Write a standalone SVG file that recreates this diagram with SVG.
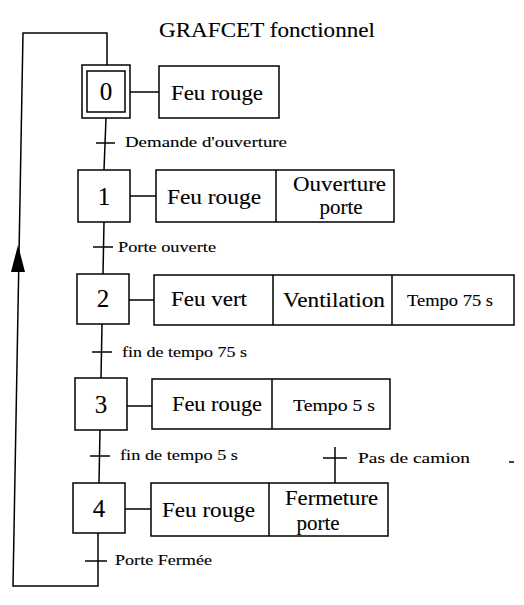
<svg xmlns="http://www.w3.org/2000/svg" width="524" height="605" viewBox="0 0 524 605">
<style>
.ln{fill:none;stroke:#000;stroke-width:1.5}
.bx{fill:#fff;stroke:#000;stroke-width:1.5}
.f{font-family:"Times New Roman","Liberation Serif",Tinos,"Noto Serif","DejaVu Serif",serif;fill:#000;stroke:#000;stroke-width:0.12}
.num{font-size:25px;text-anchor:middle}
.act{font-size:21px}
.sm{font-size:16px}
.tr{font-size:15px}
.ttl{font-size:21px}
</style>
<rect width="524" height="605" fill="#fff"/>
<text class="f ttl" x="159" y="37" textLength="216" lengthAdjust="spacingAndGlyphs">GRAFCET fonctionnel</text>
<g id="connectors">
  <path class="ln" d="M107,65 V33 H23 L13,586 H98 V533"/>
  <path d="M18,245 L11,272 L25,272 Z" fill="#000"/>
  <path class="ln" d="M106,118 L104,170"/>
  <path class="ln" d="M96,143 H115"/>
  <path class="ln" d="M104,222 L103,274"/>
  <path class="ln" d="M93,247 H113"/>
  <path class="ln" d="M102,324 L101,378"/>
  <path class="ln" d="M92,352 H112"/>
  <path class="ln" d="M100,430 L99,483"/>
  <path class="ln" d="M90,456 H110"/>
  <path class="ln" d="M85,561 H107"/>
  <path class="ln" d="M335,447 V483"/>
  <path class="ln" d="M323,458 H347"/>
  <path class="ln" d="M130,92 H159"/>
  <path class="ln" d="M130,196 H156"/>
  <path class="ln" d="M129,300 H154"/>
  <path class="ln" d="M127,406 H152"/>
  <path class="ln" d="M125,509 H151"/>
  <path class="ln" d="M509,462 H514"/>
</g>
<g id="t0"><text class="f tr" x="125" y="147" textLength="162" lengthAdjust="spacingAndGlyphs">Demande d'ouverture</text></g>
<g id="t1"><text class="f tr" x="118" y="252" textLength="98" lengthAdjust="spacingAndGlyphs">Porte ouverte</text></g>
<g id="t2"><text class="f tr" x="122" y="357" textLength="125" lengthAdjust="spacingAndGlyphs">fin de tempo 75 s</text></g>
<g id="t3"><text class="f tr" x="120" y="460" textLength="118" lengthAdjust="spacingAndGlyphs">fin de tempo 5 s</text></g>
<g id="t4"><text class="f tr" x="358" y="463" textLength="112" lengthAdjust="spacingAndGlyphs">Pas de camion</text></g>
<g id="t5"><text class="f tr" x="115" y="565" textLength="97" lengthAdjust="spacingAndGlyphs">Porte Fermée</text></g>
<g id="step0">
  <rect class="bx" x="82" y="65" width="48" height="53"/>
  <rect class="bx" x="87" y="71" width="38" height="41"/>
  <text class="f num" x="106" y="100">0</text>
</g>
<g id="action0">
  <rect class="bx" x="159" y="66" width="120" height="52"/>
  <text class="f act" x="171" y="100" textLength="92" lengthAdjust="spacingAndGlyphs">Feu rouge</text>
</g>
<g id="step1">
  <rect class="bx" x="78" y="170" width="52" height="52"/>
  <text class="f num" x="104" y="205">1</text>
</g>
<g id="action1">
  <rect class="bx" x="156" y="170" width="238" height="52"/>
  <path class="ln" d="M276,170 V222"/>
  <text class="f act" x="167" y="204" textLength="94" lengthAdjust="spacingAndGlyphs">Feu rouge</text>
  <text class="f act" x="293" y="191" textLength="93" lengthAdjust="spacingAndGlyphs">Ouverture</text>
  <text class="f act" x="341" y="214" text-anchor="middle">porte</text>
</g>
<g id="step2">
  <rect class="bx" x="77" y="274" width="52" height="50"/>
  <text class="f num" x="103" y="307">2</text>
</g>
<g id="action2">
  <rect class="bx" x="154" y="275" width="360" height="50"/>
  <path class="ln" d="M273,275 V325 M392,275 V325"/>
  <text class="f act" x="171" y="306" textLength="76" lengthAdjust="spacingAndGlyphs">Feu vert</text>
  <text class="f act" x="283" y="307" textLength="102" lengthAdjust="spacingAndGlyphs">Ventilation</text>
  <text class="f sm" x="407" y="306" textLength="86" lengthAdjust="spacingAndGlyphs">Tempo 75 s</text>
</g>
<g id="step3">
  <rect class="bx" x="75" y="378" width="52" height="52"/>
  <text class="f num" x="101" y="413">3</text>
</g>
<g id="action3">
  <rect class="bx" x="152" y="379" width="238" height="50"/>
  <path class="ln" d="M272,379 V429"/>
  <text class="f act" x="172" y="411" textLength="90" lengthAdjust="spacingAndGlyphs">Feu rouge</text>
  <text class="f sm" x="293" y="411" textLength="82" lengthAdjust="spacingAndGlyphs">Tempo 5 s</text>
</g>
<g id="step4">
  <rect class="bx" x="73" y="483" width="52" height="50"/>
  <text class="f num" x="99" y="517">4</text>
</g>
<g id="action4">
  <rect class="bx" x="151" y="483" width="237" height="53"/>
  <path class="ln" d="M269,483 V536"/>
  <text class="f act" x="162" y="517" textLength="93" lengthAdjust="spacingAndGlyphs">Feu rouge</text>
  <text class="f act" x="285" y="505" textLength="93" lengthAdjust="spacingAndGlyphs">Fermeture</text>
  <text class="f act" x="318" y="530" text-anchor="middle">porte</text>
</g>
</svg>
